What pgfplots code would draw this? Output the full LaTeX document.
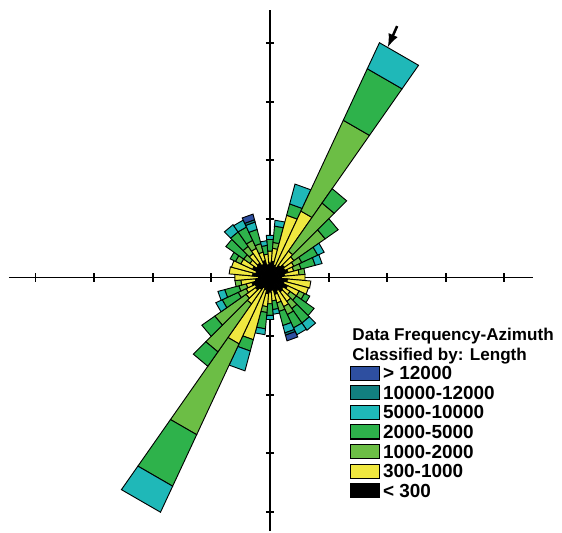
\documentclass[border=0pt]{standalone}
\usepackage{pgfplots}
\pgfplotsset{compat=1.18}
\usepgfplotslibrary{polar}
\usepackage{fontspec}
\setmainfont{Liberation Sans}
\definecolor{cBlue}{HTML}{2E4FA0}
\definecolor{cTeal}{HTML}{127F7F}
\definecolor{cCyan}{HTML}{1FB8B8}
\definecolor{cGreen}{HTML}{2EB24B}
\definecolor{cLGreen}{HTML}{6CBE45}
\definecolor{cYellow}{HTML}{F0E840}

% one stacked segment of a petal: left angle, right angle, inner r, outer r, colour
\newcommand{\seg}[5]{\ifdim #4pt>#3pt
  \addplot[forget plot, fill=#5, draw=black, line width=0.45pt, data cs=polar]
    coordinates {(#1,#3) (#2,#3) (#2,#4) (#1,#4)} -- cycle;\fi}
% one petal (10 degree bin) at math angle #1 with cumulative radii
\newcommand{\half}[8]{%
  \pgfmathsetmacro\rbL{#1-5}\pgfmathsetmacro\rbR{#1+5}%
  \seg{\rbL}{\rbR}{0}{#2}{black}%
  \seg{\rbL}{\rbR}{#2}{#3}{cYellow}%
  \seg{\rbL}{\rbR}{#3}{#4}{cLGreen}%
  \seg{\rbL}{\rbR}{#4}{#5}{cGreen}%
  \seg{\rbL}{\rbR}{#5}{#6}{cCyan}%
  \seg{\rbL}{\rbR}{#6}{#7}{cTeal}%
  \seg{\rbL}{\rbR}{#7}{#8}{cBlue}}
% bidirectional bin: azimuth #1 (clockwise from north) and azimuth #1+180
\newcommand{\rosebin}[8]{%
  \pgfmathsetmacro\rbA{90-#1}\half{\rbA}{#2}{#3}{#4}{#5}{#6}{#7}{#8}%
  \pgfmathsetmacro\rbB{270-#1}\half{\rbB}{#2}{#3}{#4}{#5}{#6}{#7}{#8}}

\begin{document}
\begin{tikzpicture}
\begin{axis}[
  x=1cm, y=1cm,
  axis lines=middle,
  axis line style={-, line width=0.9pt, black},
  xmin=-4.454, xmax=4.488, ymin=-4.33, ymax=4.565,
  xtick={-4,-3,-2,-1,1,2,3,4}, ytick={-4,-3,-2,-1,1,2,3,4},
  xticklabels={}, yticklabels={},
  tick style={black, line width=0.9pt},
  major tick length=0.14cm, tick align=center,
  clip=false,
  legend cell align=left,
  legend style={at={(axis cs:1.36,-1.496)}, anchor=north west, draw=none, fill=none,
    inner sep=0pt, outer sep=0pt, row sep=1.6pt, column sep=1pt,
    font=\fontsize{9.2}{10}\selectfont\bfseries,
    nodes={inner sep=0.5pt, text height=6.6pt, text depth=0.3pt}},
]
\addlegendimage{legend image code/.code={\draw[fill=cBlue,draw=black,line width=0.5pt] (0cm,-0.12cm) rectangle (0.5cm,0.12cm);}}
\addlegendentry{> 12000}
\addlegendimage{legend image code/.code={\draw[fill=cTeal,draw=black,line width=0.5pt] (0cm,-0.12cm) rectangle (0.5cm,0.12cm);}}
\addlegendentry{10000-12000}
\addlegendimage{legend image code/.code={\draw[fill=cCyan,draw=black,line width=0.5pt] (0cm,-0.12cm) rectangle (0.5cm,0.12cm);}}
\addlegendentry{5000-10000}
\addlegendimage{legend image code/.code={\draw[fill=cGreen,draw=black,line width=0.5pt] (0cm,-0.12cm) rectangle (0.5cm,0.12cm);}}
\addlegendentry{2000-5000}
\addlegendimage{legend image code/.code={\draw[fill=cLGreen,draw=black,line width=0.5pt] (0cm,-0.12cm) rectangle (0.5cm,0.12cm);}}
\addlegendentry{1000-2000}
\addlegendimage{legend image code/.code={\draw[fill=cYellow,draw=black,line width=0.5pt] (0cm,-0.12cm) rectangle (0.5cm,0.12cm);}}
\addlegendentry{300-1000}
\addlegendimage{legend image code/.code={\draw[fill=black,draw=black,line width=0.5pt] (0cm,-0.12cm) rectangle (0.5cm,0.12cm);}}
\addlegendentry{< 300}

% azimuth, cumulative radii: <300, 300-1000, 1000-2000, 2000-5000, 5000-10000, 10000-12000, >12000
\rosebin{0}  {0.25}{0.45}{0.45}{0.65}{0.72}{0.72}{0.72}
\rosebin{10} {0.28}{0.50}{0.60}{0.88}{0.98}{0.98}{0.98}
\rosebin{20} {0.22}{1.10}{1.10}{1.30}{1.65}{1.65}{1.65}
\rosebin{30} {0.20}{1.25}{2.96}{3.93}{4.42}{4.42}{4.42}
\rosebin{40} {0.25}{0.55}{1.55}{1.85}{1.85}{1.85}{1.85}
\rosebin{50} {0.30}{0.50}{1.15}{1.42}{1.42}{1.42}{1.42}
\rosebin{60} {0.28}{0.45}{0.60}{0.90}{1.02}{1.02}{1.02}
\rosebin{70} {0.32}{0.42}{0.55}{0.80}{0.92}{0.92}{0.92}
\rosebin{80} {0.25}{0.50}{0.60}{0.60}{0.60}{0.60}{0.60}
\rosebin{90} {0.20}{0.60}{0.60}{0.60}{0.60}{0.60}{0.60}
\rosebin{100}{0.30}{0.70}{0.70}{0.70}{0.70}{0.70}{0.70}
\rosebin{110}{0.25}{0.68}{0.68}{0.68}{0.68}{0.68}{0.68}
\rosebin{120}{0.33}{0.55}{0.65}{0.75}{0.75}{0.75}{0.75}
\rosebin{130}{0.28}{0.42}{0.55}{0.92}{0.92}{0.92}{0.92}
\rosebin{140}{0.30}{0.50}{0.65}{0.95}{1.10}{1.10}{1.10}
\rosebin{150}{0.25}{0.55}{0.70}{0.95}{1.08}{1.08}{1.08}
\rosebin{160}{0.30}{0.45}{0.60}{0.85}{0.98}{1.02}{1.12}
\rosebin{170}{0.22}{0.40}{0.40}{0.55}{0.63}{0.63}{0.63}

% mean direction arrow
\addplot[forget plot, -latex, line width=1.2pt] coordinates {(2.17,4.29) (2.01,3.93)};

\node[anchor=base west, inner sep=0pt, font=\fontsize{8.3}{9}\selectfont\bfseries] at (axis cs:1.40,-1.084) {Data Frequency-Azimuth};
\node[anchor=base west, inner sep=0pt, font=\fontsize{8.3}{9}\selectfont\bfseries] at (axis cs:1.40,-1.41) {Classified by: Length};

\path (axis cs:-4.607,-4.326) rectangle (axis cs:4.983,4.735);
\end{axis}
\end{tikzpicture}
\end{document}
